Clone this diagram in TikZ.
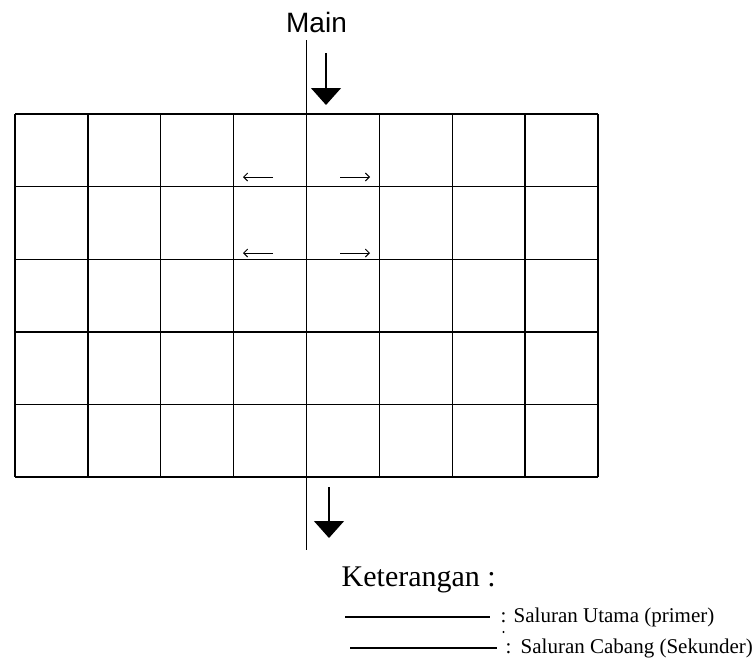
\documentclass[tikz,border=0pt]{standalone}
\usepackage{fontspec}
\usepackage{tikz}
\usetikzlibrary{arrows.meta,calc}
\newfontfamily\labelsans{Liberation Sans}
\newfontfamily\labelserif{Liberation Serif}

\begin{document}
\begin{tikzpicture}[x=1pt, y=-1pt, line width=1.4pt,
    flow/.style={-{Triangle[width=30pt,length=17pt]}},
    branch/.style={line width=0.9pt, -{Straight Barb[length=4pt,width=8pt]}},
    legendtxt/.style={inner sep=0pt, font=\labelserif\fontsize{21}{23}\selectfont}]
      \useasboundingbox (0,0) rectangle (755,659);

      % Grid of blocks
      \foreach \i in {0,...,8}
        \draw (15+72.875*\i,114) -- (15+72.875*\i,477);
      \foreach \j in {0,...,5}
        \draw (15,114+72.6*\j) -- (598,114+72.6*\j);

      % Main channel
      \node[anchor=base, inner sep=0pt, font=\labelsans\fontsize{28}{30}\selectfont] (main) at (316.5,32) {Main};
      \coordinate (chtop) at (306.5,40);
      \coordinate (chbot) at (306.5,550);
      \draw (chtop) -- (chbot);

      % Flow direction
      \coordinate (intop) at (326,53);
      \coordinate (inend) at (326,105);
      \coordinate (outtop) at (329,487);
      \coordinate (outend) at (329,538);
      \draw[flow] (intop) -- (inend);
      \draw[flow] (outtop) -- (outend);

      % Branch directions
      \foreach \y in {177,253} {
        \draw[branch] (273,\y) -- (243,\y);
        \draw[branch] (340,\y) -- (370,\y);
      }

      % Legend
      \node[anchor=base west, inner sep=0pt, font=\labelserif\fontsize{30}{32}\selectfont] (ket) at (341,586) {Keterangan :};
      \coordinate (prima) at (345,617);
      \coordinate (primb) at (490,617);
      \coordinate (seka) at (350,648);
      \coordinate (sekb) at (497,648);
      \draw[line width=1.1pt] (prima) -- (primb);
      \draw[line width=1.1pt] (seka) -- (sekb);
      \node[legendtxt, anchor=base west] (colp) at (500,622) {:};
      \node[legendtxt, anchor=base west] (prim) at (513,622) {Saluran Utama (primer)};
      \fill (503.5,632) circle (1.2pt);
      \node[legendtxt, anchor=base west] (cols) at (505,653) {:};
      \node[legendtxt, anchor=base west] (sek) at (520,653) {Saluran Cabang (Sekunder)};

    \end{tikzpicture}
\end{document}
